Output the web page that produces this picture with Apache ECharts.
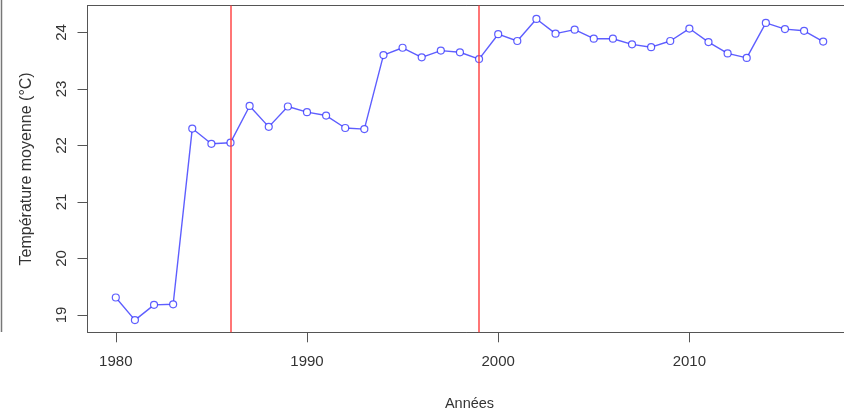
<!DOCTYPE html>
<html>
<head>
<meta charset="utf-8">
<script src="https://cdn.jsdelivr.net/npm/echarts@6/dist/echarts.min.js"></script>
<style>
  html, body { margin: 0; padding: 0; background: #fff; }
  #chart { width: 844px; height: 417px; }
</style>
</head>
<body>
<div id="chart"></div>
<script>
// Annual mean temperature series with two break years
const years = [1980, 1981, 1982, 1983, 1984, 1985, 1986, 1987, 1988, 1989,
               1990, 1991, 1992, 1993, 1994, 1995, 1996, 1997, 1998, 1999,
               2000, 2001, 2002, 2003, 2004, 2005, 2006, 2007, 2008, 2009,
               2010, 2011, 2012, 2013, 2014, 2015, 2016, 2017];
const temps = [19.31, 18.91, 19.18, 19.19, 22.30, 22.03, 22.05, 22.70, 22.33, 22.69,
               22.59, 22.53, 22.31, 22.29, 23.60, 23.73, 23.56, 23.68, 23.65, 23.53,
               23.97, 23.85, 24.24, 23.98, 24.05, 23.89, 23.89, 23.79, 23.74, 23.85,
               24.07, 23.83, 23.63, 23.55, 24.17, 24.06, 24.03, 23.84];
const breakYears = [1986, 1999];
const xTicks = [1980, 1990, 2000, 2010];
const yTicks = [19, 20, 21, 22, 23, 24];

const font = '"Liberation Sans", Arial, sans-serif';
const frame = { show: true, onZero: false, lineStyle: { color: '#555', width: 1 } };
const xRange = { type: 'value', min: 1978.52, max: 2018.48 };
const yRange = { type: 'value', min: 18.694, max: 24.478 };
const hidden = { axisTick: { show: false }, axisLabel: { show: false }, splitLine: { show: false } };

const chart = echarts.init(document.getElementById('chart'), null, { renderer: 'canvas' });

chart.setOption({
  animation: false,
  backgroundColor: '#ffffff',
  grid: {
    left: 87.5, top: 5.5, width: 764, height: 326.8,
    outerBoundsMode: 'none',
    containLabel: false,
    show: false
  },
  xAxis: [{
    ...xRange,
    position: 'bottom',
    name: 'Années',
    nameLocation: 'middle',
    nameGap: 64,
    nameTextStyle: { fontFamily: font, fontSize: 14.5, color: '#333' },
    axisLine: frame,
    axisTick: { show: true, length: 10, customValues: xTicks, lineStyle: { color: '#555' } },
    axisLabel: { customValues: xTicks, margin: 22, fontFamily: font, fontSize: 15, color: '#333',
                 formatter: v => String(v) },
    splitLine: { show: false }
  }, {
    ...xRange,
    position: 'top',
    axisLine: frame,
    ...hidden
  }],
  yAxis: [{
    ...yRange,
    position: 'left',
    name: 'Température moyenne (°C)',
    nameLocation: 'middle',
    nameGap: 52.5,
    nameRotate: 90,
    nameTextStyle: { fontFamily: font, fontSize: 16, color: '#333' },
    axisLine: frame,
    axisTick: { show: true, length: 10, customValues: yTicks, lineStyle: { color: '#555' } },
    axisLabel: { customValues: yTicks, rotate: 90, margin: 18, fontFamily: font, fontSize: 15, color: '#333' },
    splitLine: { show: false }
  }, {
    ...yRange,
    position: 'right',
    axisLine: frame,
    ...hidden
  }],
  graphic: [{
    type: 'line',
    shape: { x1: 1.5, y1: 0, x2: 1.5, y2: 332 },
    style: { stroke: '#777', lineWidth: 1.5 }
  }],
  series: [{
    type: 'line',
    data: years.map((y, i) => [y, temps[i]]),
    symbol: 'circle',
    symbolSize: 7,
    itemStyle: { color: '#ffffff', borderColor: 'rgba(40,40,255,0.75)', borderWidth: 1.2 },
    lineStyle: { color: 'rgba(40,40,255,0.75)', width: 1.4 },
    markLine: {
      silent: true,
      symbol: 'none',
      label: { show: false },
      lineStyle: { color: 'rgba(255,60,60,0.7)', width: 2, type: 'solid' },
      data: breakYears.map(y => ({ xAxis: y }))
    },
    z: 3
  }]
});
</script>
</body>
</html>
